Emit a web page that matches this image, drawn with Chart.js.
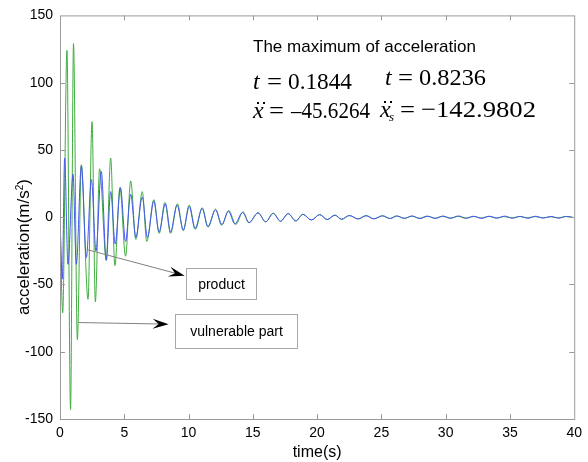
<!DOCTYPE html>
<html>
<head>
<meta charset="utf-8">
<script src="https://cdn.jsdelivr.net/npm/chart.js@4"></script>
<style>
  body { margin: 0; background: #fff; }
  #accChart { display: block; }
</style>
</head>
<body>
<canvas id="accChart" width="588" height="462"></canvas>
<script>
// product (blue) - peaks/troughs
const productTime = [0, 0.18, 0.36, 0.62, 1.01, 1.27, 1.66, 2.05, 2.44, 2.8, 3.21, 3.6, 3.94, 4.3, 4.7, 5.1, 5.5, 5.9,
  6.4, 6.8, 7.3, 7.7, 8.2, 8.6, 9.1, 9.6, 10.05, 10.5, 11.06, 11.5, 12.1, 12.6, 13.1, 13.6, 14.2, 14.7,
  15.4, 16.0, 16.6, 17.15, 17.75, 18.35, 18.9, 19.55, 20.2, 20.8, 21.4, 21.9, 22.5, 23.2, 23.8, 24.4, 25.1, 25.7,
  26.2, 26.8, 27.4, 28.0, 28.6, 29.2, 29.8, 30.4, 31.0, 31.6, 32.2, 32.8, 33.4, 34.0, 34.6, 35.2, 35.8, 36.4,
  37.0, 37.6, 38.2, 38.8, 39.4, 40];
const productAcc = [0, -46, 44, -35, 32, -35, 38, -30, 28, -25, 34, -32, 19, -20, 22, -18, 17, -15,
  15, -15, 12, -11, 10, -11, 9, -9.5, 8, -8.5, 6.5, -7, 5.5, -5.5, 4.5, -5, 3.5, -4,
  3.2, -3.4, 2.8, -3, 2.6, -2.7, 2.1, -2.1, 1.9, -1.7, 1.5, -1.5, 1.2, -1.3, 1.1, -1.2, 1.0, -1.0,
  0.9, -0.8, 0.9, -1.0, 0.7, -0.9, 0.8, -0.7, 0.9, -0.8, 0.6, -0.9, 0.7, -0.6, 0.8, -0.7, 0.6, -0.8,
  0.7, -0.6, 0.5, -0.7, 0.6, -0.4];

// vulnerable part (green)
const partTime = [0, 0.21, 0.54, 0.82, 1.05, 1.35, 1.66, 2.18, 2.49, 2.75, 3.08, 3.6, 3.94, 4.27, 4.66, 5.1, 5.5, 5.9,
  6.4, 6.75, 7.3, 7.72, 8.16, 8.6, 9.14, 9.58, 10.05, 10.54, 11.06, 11.52, 12.1, 12.56, 13.13, 13.67, 14.24, 14.7,
  15.41, 16.0, 16.57, 17.15, 17.74, 18.34, 18.9, 19.55, 20.2, 20.77, 21.37, 21.89, 22.53, 23.18, 23.83, 24.42, 25.07, 25.64,
  26.16, 26.8, 27.35, 27.95, 28.55, 29.15, 29.75, 30.35, 30.95, 31.55, 32.15, 32.75, 33.35, 33.95, 34.55, 35.15, 35.75, 36.35,
  36.95, 37.55, 38.15, 38.75, 39.35, 40];
const partAcc = [0, -71, 124, -143, 129, -91, 39, -61, 71, -63, 36, -32, 44, -36, 22, -29, 27, -16.5,
  19, -18, 13, -12, 11, -12, 10, -10, 9, -9, 7, -7.4, 6, -6, 5, -5.4, 4, -4.2,
  3.3, -3.5, 3.0, -3.0, 2.8, -2.8, 2.2, -2.1, 2.0, -1.8, 1.6, -1.6, 1.3, -1.3, 1.2, -1.2, 1.1, -1.0,
  0.9, -0.9, 0.8, -0.8, 0.8, -0.7, 0.7, -0.8, 0.6, -0.7, 0.7, -0.6, 0.6, -0.7, 0.5, -0.6, 0.6, -0.5,
  0.5, -0.6, 0.4, -0.5, 0.5, -0.3];

const xTicks = [0, 5, 10, 15, 20, 25, 30, 35, 40];
const yTicks = [-150, -100, -50, 0, 50, 100, 150];

const toPoints = (ts, vs) => ts.map((t, i) => ({x: t, y: vs[i]}));

// annotation boxes/arrows in data units
const notes = [
  {label: "product", from: [2.07, -24], to: [9.7, -43.5], box: [9.8, 15.25, -37.8, -60.7]},
  {label: "vulnerable part", from: [1.42, -78.3], to: [8.45, -79.5], box: [8.95, 18.4, -72, -97]}
];

function arrowHead(ctx, x1, y1, x2, y2) {
  let ang = Math.atan2(y2 - y1, x2 - x1);
  let ux = Math.cos(ang), uy = Math.sin(ang);
  let nx = -uy, ny = ux;
  ctx.beginPath();
  ctx.moveTo(x2, y2);
  ctx.lineTo(x2 - 16*ux + 5*nx, y2 - 16*uy + 5*ny);
  ctx.lineTo(x2 - 10*ux, y2 - 10*uy);
  ctx.lineTo(x2 - 16*ux - 5*nx, y2 - 16*uy - 5*ny);
  ctx.closePath();
  ctx.fill();
}

// draw text squeezed/stretched to sit between x0 and x1
function fitText(ctx, txt, x0, x1, y) {
  let w = ctx.measureText(txt).width;
  ctx.save();
  ctx.translate(x0, y);
  ctx.scale((x1 - x0) / w, 1);
  ctx.fillText(txt, 0, 0);
  ctx.restore();
}

const framePlugin = {
  id: "frame",
  afterDraw(chart) {
    const ctx = chart.ctx;
    const a = chart.chartArea;
    const xs = chart.scales.x, ys = chart.scales.y;
    ctx.save();
    ctx.strokeStyle = "#9a9a9a";
    ctx.lineWidth = 1;
    ctx.strokeRect(a.left + 0.5, a.top + 0.5, a.right - a.left, a.bottom - a.top);
    ctx.beginPath();
    xTicks.slice(1, -1).forEach(v => {
      let px = Math.round(xs.getPixelForValue(v)) + 0.5;
      ctx.moveTo(px, a.bottom); ctx.lineTo(px, a.bottom - 5);
      ctx.moveTo(px, a.top); ctx.lineTo(px, a.top + 5);
    });
    yTicks.slice(1, -1).forEach(v => {
      let py = Math.round(ys.getPixelForValue(v)) + 0.5;
      ctx.moveTo(a.left, py); ctx.lineTo(a.left + 5, py);
      ctx.moveTo(a.right, py); ctx.lineTo(a.right - 5, py);
    });
    ctx.stroke();

    // y title, drawn by hand so the superscript sits right
    ctx.fillStyle = "#000";
    ctx.translate(24, 247);
    ctx.rotate(-Math.PI / 2);
    ctx.font = '17px "Liberation Sans"';
    ctx.textBaseline = "middle";
    let w1 = ctx.measureText("acceleration(m/s").width;
    ctx.font = '10px "Liberation Sans"';
    let w2 = ctx.measureText("2").width;
    ctx.font = '17px "Liberation Sans"';
    let w3 = ctx.measureText(")").width;
    let x0 = -(w1 + w2 + w3) / 2;
    ctx.fillText("acceleration(m/s", x0, 0);
    ctx.font = '10px "Liberation Sans"';
    ctx.fillText("2", x0 + w1, -4);
    ctx.font = '17px "Liberation Sans"';
    ctx.fillText(")", x0 + w1 + w2, 0);
    ctx.restore();

    // arrows + boxes
    ctx.save();
    notes.forEach(n => {
      let x1 = xs.getPixelForValue(n.from[0]), y1 = ys.getPixelForValue(n.from[1]);
      let x2 = xs.getPixelForValue(n.to[0]), y2 = ys.getPixelForValue(n.to[1]);
      ctx.strokeStyle = "#808080";
      ctx.beginPath(); ctx.moveTo(x1, y1); ctx.lineTo(x2 - 8, y2 - 8 * (y2 - y1) / (x2 - x1)); ctx.stroke();
      ctx.fillStyle = "#000";
      arrowHead(ctx, x1, y1, x2, y2);
      let bl = Math.round(xs.getPixelForValue(n.box[0])) + 0.5, br = Math.round(xs.getPixelForValue(n.box[1])) + 0.5;
      let bt = Math.round(ys.getPixelForValue(n.box[2])) + 0.5, bb = Math.round(ys.getPixelForValue(n.box[3])) + 0.5;
      ctx.fillStyle = "#fff";
      ctx.fillRect(bl, bt, br - bl, bb - bt);
      ctx.strokeStyle = "#a8a8a8";
      ctx.strokeRect(bl, bt, br - bl, bb - bt);
      ctx.fillStyle = "#000";
      ctx.font = '14px "Liberation Sans"';
      ctx.textBaseline = "middle";
      ctx.textAlign = "center";
      ctx.fillText(n.label, (bl + br) / 2, (bt + bb) / 2 + 1);
    });
    ctx.restore();

    // max acceleration text
    ctx.save();
    ctx.fillStyle = "#000";
    ctx.textBaseline = "alphabetic";
    ctx.font = '17px "Liberation Sans"';
    ctx.fillText("The maximum of acceleration", 253, 52);
    const serif = '"Liberation Serif", "DejaVu Serif"';
    function mathRow(x, y, sym, sub, eqX, numX0, numX1, num) {
      ctx.font = 'italic 24px ' + serif;
      ctx.fillText(sym, x, y);
      if (sym === "x") {
        ctx.fillRect(x + 4, y - 16, 2, 2);
        ctx.fillRect(x + 10, y - 16, 2, 2);
      }
      if (sub) {
        ctx.font = 'italic 13px ' + serif;
        ctx.fillText(sub, x + 9, y + 4);
      }
      ctx.font = '24px ' + serif;
      fitText(ctx, "=", eqX, eqX + 15, y);
      fitText(ctx, num, numX0, numX1, y);
    }
    mathRow(253, 89, "t", "", 267, 288, 352, "0.1844");
    mathRow(385, 85, "t", "", 398, 419, 486, "0.8236");
    mathRow(253, 118, "x", "", 269, 291, 370, "\u201345.6264");
    mathRow(380, 117, "x", "s", 400, 421, 536, "\u2212142.9802");
    ctx.restore();
  }
};

let ctx = document.getElementById("accChart").getContext("2d");

let accChart = new Chart(ctx, {
  type: "line",
  data: {
    datasets: [{
      label: "product",
      data: toPoints(productTime, productAcc),
      borderColor: "#4656f0",
      borderWidth: 1,
      pointRadius: 0,
      cubicInterpolationMode: "monotone",
      order: 0
    }, {
      label: "vulnerable part",
      data: toPoints(partTime, partAcc),
      borderColor: "#3fac3f",
      borderWidth: 1,
      pointRadius: 0,
      cubicInterpolationMode: "monotone",
      order: 1
    }]
  },
  options: {
    responsive: false,
    animation: false,
    layout: {padding: {top: 14, right: 13, left: 0, bottom: 0}},
    plugins: {legend: {display: false}, tooltip: {enabled: false}},
    scales: {
      x: {
        type: "linear",
        min: 0, max: 40,
        afterBuildTicks: s => { s.ticks = xTicks.map(v => ({value: v})); },
        afterFit: s => { s.height = 43; },
        grid: {display: false, drawTicks: false},
        border: {display: false},
        ticks: {color: "#000", font: {family: "Liberation Sans", size: 14}, padding: 6, maxRotation: 0},
        title: {display: true, text: "time(s)", color: "#000", font: {family: "Liberation Sans", size: 16}, padding: {top: 0, bottom: 0}}
      },
      y: {
        min: -150, max: 150,
        afterBuildTicks: s => { s.ticks = yTicks.map(v => ({value: v})); },
        afterFit: s => { s.width = 60; },
        grid: {display: false, drawTicks: false},
        border: {display: false},
        ticks: {color: "#000", font: {family: "Liberation Sans", size: 14}, padding: 7}
      }
    }
  },
  plugins: [framePlugin]
});
</script>
</body>
</html>
